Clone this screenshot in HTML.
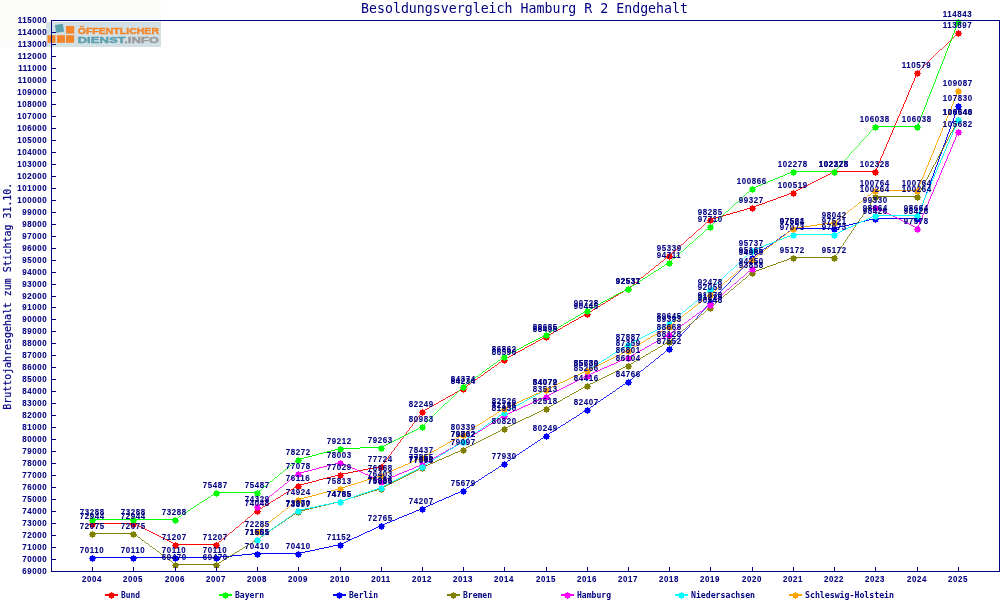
<!DOCTYPE html>
<html lang="de"><head><meta charset="utf-8"><title>Besoldungsvergleich Hamburg R 2 Endgehalt</title>
<style>html,body{margin:0;padding:0;background:#fff}svg{display:block}.t{font-family:'DejaVu Sans Mono','Liberation Mono',monospace;font-size:8.2px;font-weight:bold;fill:#000080}.d{font-family:'Liberation Sans',sans-serif;font-size:9px;font-weight:bold;fill:#000080;letter-spacing:0.68px;stroke:#000080;stroke-width:0.1px}.ln{fill:none}</style></head><body>
<svg width="1000" height="600" viewBox="0 0 1000 600">
<rect width="1000" height="600" fill="#ffffff"/>
<rect x="0" y="0" width="161" height="47" fill="#fcfdfa"/>
<g id="logo">
<rect x="46" y="22" width="115" height="25" fill="#d2dfe5"/>
<rect x="47.5" y="35.2" width="8" height="7.6" fill="#f7862a"/>
<rect x="57" y="35.2" width="8" height="7.6" fill="#f7862a"/>
<rect x="66" y="35.2" width="8.2" height="7.6" fill="#f7862a"/>
<rect x="66" y="26" width="8.2" height="7.6" fill="#f7862a"/>
<rect x="55.5" y="24.3" width="8" height="8" fill="#5aa0ad" transform="rotate(-8 59.5 28.3)"/>
<text x="77.7" y="33.6" style="font-family:'Liberation Sans',sans-serif;font-weight:bold;font-size:9.5px" fill="#f58426" stroke="#f58426" stroke-width="0.4" textLength="81.3" lengthAdjust="spacingAndGlyphs">ÖFFENTLICHER</text>
<text x="77.7" y="43.3" style="font-family:'Liberation Sans',sans-serif;font-weight:bold;font-size:9.5px" stroke-width="0.4" textLength="81.3" lengthAdjust="spacingAndGlyphs"><tspan fill="#5b9fac" stroke="#5b9fac">DIENST</tspan><tspan fill="#9a9a9a" stroke="#9a9a9a">.INFO</tspan></text>
</g>
<text x="524.5" y="13" text-anchor="middle" textLength="327" lengthAdjust="spacingAndGlyphs" style="font-family:'DejaVu Sans Mono','Liberation Mono',monospace;font-size:13.3px" fill="#000080">Besoldungsvergleich Hamburg R 2 Endgehalt</text>
<text transform="translate(10.5,296.2) rotate(-90)" text-anchor="middle" textLength="227" lengthAdjust="spacingAndGlyphs" style="font-family:'DejaVu Sans Mono','Liberation Mono',monospace;font-size:10.8px" stroke="#000080" stroke-width="0.2" fill="#000080">Bruttojahresgehalt zum Stichtag 31.10.</text>
<g class="d">
<text transform="translate(47.3,574.0) scale(0.88,1)" text-anchor="end">69000</text>
<text transform="translate(47.3,562.0) scale(0.88,1)" text-anchor="end">70000</text>
<text transform="translate(47.3,550.0) scale(0.88,1)" text-anchor="end">71000</text>
<text transform="translate(47.3,538.0) scale(0.88,1)" text-anchor="end">72000</text>
<text transform="translate(47.3,526.0) scale(0.88,1)" text-anchor="end">73000</text>
<text transform="translate(47.3,514.0) scale(0.88,1)" text-anchor="end">74000</text>
<text transform="translate(47.3,502.0) scale(0.88,1)" text-anchor="end">75000</text>
<text transform="translate(47.3,490.0) scale(0.88,1)" text-anchor="end">76000</text>
<text transform="translate(47.3,478.0) scale(0.88,1)" text-anchor="end">77000</text>
<text transform="translate(47.3,466.0) scale(0.88,1)" text-anchor="end">78000</text>
<text transform="translate(47.3,454.0) scale(0.88,1)" text-anchor="end">79000</text>
<text transform="translate(47.3,442.0) scale(0.88,1)" text-anchor="end">80000</text>
<text transform="translate(47.3,430.0) scale(0.88,1)" text-anchor="end">81000</text>
<text transform="translate(47.3,418.0) scale(0.88,1)" text-anchor="end">82000</text>
<text transform="translate(47.3,406.0) scale(0.88,1)" text-anchor="end">83000</text>
<text transform="translate(47.3,394.0) scale(0.88,1)" text-anchor="end">84000</text>
<text transform="translate(47.3,382.0) scale(0.88,1)" text-anchor="end">85000</text>
<text transform="translate(47.3,370.0) scale(0.88,1)" text-anchor="end">86000</text>
<text transform="translate(47.3,358.0) scale(0.88,1)" text-anchor="end">87000</text>
<text transform="translate(47.3,346.0) scale(0.88,1)" text-anchor="end">88000</text>
<text transform="translate(47.3,334.0) scale(0.88,1)" text-anchor="end">89000</text>
<text transform="translate(47.3,322.0) scale(0.88,1)" text-anchor="end">90000</text>
<text transform="translate(47.3,310.0) scale(0.88,1)" text-anchor="end">91000</text>
<text transform="translate(47.3,299.0) scale(0.88,1)" text-anchor="end">92000</text>
<text transform="translate(47.3,287.0) scale(0.88,1)" text-anchor="end">93000</text>
<text transform="translate(47.3,275.0) scale(0.88,1)" text-anchor="end">94000</text>
<text transform="translate(47.3,263.0) scale(0.88,1)" text-anchor="end">95000</text>
<text transform="translate(47.3,251.0) scale(0.88,1)" text-anchor="end">96000</text>
<text transform="translate(47.3,239.0) scale(0.88,1)" text-anchor="end">97000</text>
<text transform="translate(47.3,227.0) scale(0.88,1)" text-anchor="end">98000</text>
<text transform="translate(47.3,215.0) scale(0.88,1)" text-anchor="end">99000</text>
<text transform="translate(47.3,203.0) scale(0.88,1)" text-anchor="end">100000</text>
<text transform="translate(47.3,191.0) scale(0.88,1)" text-anchor="end">101000</text>
<text transform="translate(47.3,179.0) scale(0.88,1)" text-anchor="end">102000</text>
<text transform="translate(47.3,167.0) scale(0.88,1)" text-anchor="end">103000</text>
<text transform="translate(47.3,155.0) scale(0.88,1)" text-anchor="end">104000</text>
<text transform="translate(47.3,143.0) scale(0.88,1)" text-anchor="end">105000</text>
<text transform="translate(47.3,131.0) scale(0.88,1)" text-anchor="end">106000</text>
<text transform="translate(47.3,119.0) scale(0.88,1)" text-anchor="end">107000</text>
<text transform="translate(47.3,107.0) scale(0.88,1)" text-anchor="end">108000</text>
<text transform="translate(47.3,95.0) scale(0.88,1)" text-anchor="end">109000</text>
<text transform="translate(47.3,83.0) scale(0.88,1)" text-anchor="end">110000</text>
<text transform="translate(47.3,71.0) scale(0.88,1)" text-anchor="end">111000</text>
<text transform="translate(47.3,59.0) scale(0.88,1)" text-anchor="end">112000</text>
<text transform="translate(47.3,47.0) scale(0.88,1)" text-anchor="end">113000</text>
<text transform="translate(47.3,35.0) scale(0.88,1)" text-anchor="end">114000</text>
<text transform="translate(47.3,23.0) scale(0.88,1)" text-anchor="end">115000</text>
<text transform="translate(92.0,582.4) scale(0.88,1)" text-anchor="middle">2004</text>
<text transform="translate(133.0,582.4) scale(0.88,1)" text-anchor="middle">2005</text>
<text transform="translate(175.0,582.4) scale(0.88,1)" text-anchor="middle">2006</text>
<text transform="translate(216.0,582.4) scale(0.88,1)" text-anchor="middle">2007</text>
<text transform="translate(257.0,582.4) scale(0.88,1)" text-anchor="middle">2008</text>
<text transform="translate(298.0,582.4) scale(0.88,1)" text-anchor="middle">2009</text>
<text transform="translate(340.0,582.4) scale(0.88,1)" text-anchor="middle">2010</text>
<text transform="translate(381.0,582.4) scale(0.88,1)" text-anchor="middle">2011</text>
<text transform="translate(422.0,582.4) scale(0.88,1)" text-anchor="middle">2012</text>
<text transform="translate(463.0,582.4) scale(0.88,1)" text-anchor="middle">2013</text>
<text transform="translate(504.0,582.4) scale(0.88,1)" text-anchor="middle">2014</text>
<text transform="translate(546.0,582.4) scale(0.88,1)" text-anchor="middle">2015</text>
<text transform="translate(587.0,582.4) scale(0.88,1)" text-anchor="middle">2016</text>
<text transform="translate(628.0,582.4) scale(0.88,1)" text-anchor="middle">2017</text>
<text transform="translate(669.0,582.4) scale(0.88,1)" text-anchor="middle">2018</text>
<text transform="translate(710.0,582.4) scale(0.88,1)" text-anchor="middle">2019</text>
<text transform="translate(752.0,582.4) scale(0.88,1)" text-anchor="middle">2020</text>
<text transform="translate(793.0,582.4) scale(0.88,1)" text-anchor="middle">2021</text>
<text transform="translate(834.0,582.4) scale(0.88,1)" text-anchor="middle">2022</text>
<text transform="translate(875.0,582.4) scale(0.88,1)" text-anchor="middle">2023</text>
<text transform="translate(917.0,582.4) scale(0.88,1)" text-anchor="middle">2024</text>
<text transform="translate(958.0,582.4) scale(0.88,1)" text-anchor="middle">2025</text>
</g>
<g id="s-Bund">
<g stroke="#ff0000" shape-rendering="crispEdges" fill="none">
<line x1="92.47" y1="523.47" x2="133.47" y2="523.47" stroke-width="1.000"/>
<line x1="133.47" y1="523.47" x2="175.47" y2="544.47" stroke-width="0.894"/>
<line x1="175.47" y1="544.47" x2="216.47" y2="544.47" stroke-width="1.000"/>
<line x1="216.47" y1="544.47" x2="257.47" y2="510.47" stroke-width="0.770"/>
<line x1="257.47" y1="510.47" x2="298.47" y2="485.47" stroke-width="0.854"/>
<line x1="298.47" y1="485.47" x2="340.47" y2="474.47" stroke-width="0.967"/>
<line x1="340.47" y1="474.47" x2="381.47" y2="466.47" stroke-width="0.981"/>
<line x1="381.47" y1="466.47" x2="422.47" y2="411.47" stroke-width="0.802"/>
<line x1="422.47" y1="411.47" x2="463.47" y2="388.47" stroke-width="0.872"/>
<line x1="463.47" y1="388.47" x2="504.47" y2="359.47" stroke-width="0.816"/>
<line x1="504.47" y1="359.47" x2="546.47" y2="336.47" stroke-width="0.877"/>
<line x1="546.47" y1="336.47" x2="587.47" y2="313.47" stroke-width="0.872"/>
<line x1="587.47" y1="313.47" x2="628.47" y2="288.47" stroke-width="0.854"/>
<line x1="628.47" y1="288.47" x2="669.47" y2="255.47" stroke-width="0.779"/>
<line x1="669.47" y1="255.47" x2="710.47" y2="219.47" stroke-width="0.751"/>
<line x1="710.47" y1="219.47" x2="752.47" y2="207.47" stroke-width="0.962"/>
<line x1="752.47" y1="207.47" x2="793.47" y2="192.47" stroke-width="0.939"/>
<line x1="793.47" y1="192.47" x2="834.47" y2="171.47" stroke-width="0.890"/>
<line x1="834.47" y1="171.47" x2="875.47" y2="171.47" stroke-width="1.000"/>
<line x1="875.47" y1="171.47" x2="917.47" y2="72.47" stroke-width="0.921"/>
<line x1="917.47" y1="72.47" x2="958.47" y2="32.47" stroke-width="0.716"/>
</g>
<g fill="#ff0000">
<polygon points="92.50,520.80 93.53,522.01 95.12,521.88 94.99,523.47 96.20,524.50 94.99,525.53 95.12,527.12 93.53,526.99 92.50,528.20 91.47,526.99 89.88,527.12 90.01,525.53 88.80,524.50 90.01,523.47 89.88,521.88 91.47,522.01"/>
<polygon points="133.50,520.80 134.53,522.01 136.12,521.88 135.99,523.47 137.20,524.50 135.99,525.53 136.12,527.12 134.53,526.99 133.50,528.20 132.47,526.99 130.88,527.12 131.01,525.53 129.80,524.50 131.01,523.47 130.88,521.88 132.47,522.01"/>
<polygon points="175.50,541.80 176.53,543.01 178.12,542.88 177.99,544.47 179.20,545.50 177.99,546.53 178.12,548.12 176.53,547.99 175.50,549.20 174.47,547.99 172.88,548.12 173.01,546.53 171.80,545.50 173.01,544.47 172.88,542.88 174.47,543.01"/>
<polygon points="216.50,541.80 217.53,543.01 219.12,542.88 218.99,544.47 220.20,545.50 218.99,546.53 219.12,548.12 217.53,547.99 216.50,549.20 215.47,547.99 213.88,548.12 214.01,546.53 212.80,545.50 214.01,544.47 213.88,542.88 215.47,543.01"/>
<polygon points="257.50,507.80 258.53,509.01 260.12,508.88 259.99,510.47 261.20,511.50 259.99,512.53 260.12,514.12 258.53,513.99 257.50,515.20 256.47,513.99 254.88,514.12 255.01,512.53 253.80,511.50 255.01,510.47 254.88,508.88 256.47,509.01"/>
<polygon points="298.50,482.80 299.53,484.01 301.12,483.88 300.99,485.47 302.20,486.50 300.99,487.53 301.12,489.12 299.53,488.99 298.50,490.20 297.47,488.99 295.88,489.12 296.01,487.53 294.80,486.50 296.01,485.47 295.88,483.88 297.47,484.01"/>
<polygon points="340.50,471.80 341.53,473.01 343.12,472.88 342.99,474.47 344.20,475.50 342.99,476.53 343.12,478.12 341.53,477.99 340.50,479.20 339.47,477.99 337.88,478.12 338.01,476.53 336.80,475.50 338.01,474.47 337.88,472.88 339.47,473.01"/>
<polygon points="381.50,463.80 382.53,465.01 384.12,464.88 383.99,466.47 385.20,467.50 383.99,468.53 384.12,470.12 382.53,469.99 381.50,471.20 380.47,469.99 378.88,470.12 379.01,468.53 377.80,467.50 379.01,466.47 378.88,464.88 380.47,465.01"/>
<polygon points="422.50,408.80 423.53,410.01 425.12,409.88 424.99,411.47 426.20,412.50 424.99,413.53 425.12,415.12 423.53,414.99 422.50,416.20 421.47,414.99 419.88,415.12 420.01,413.53 418.80,412.50 420.01,411.47 419.88,409.88 421.47,410.01"/>
<polygon points="463.50,385.80 464.53,387.01 466.12,386.88 465.99,388.47 467.20,389.50 465.99,390.53 466.12,392.12 464.53,391.99 463.50,393.20 462.47,391.99 460.88,392.12 461.01,390.53 459.80,389.50 461.01,388.47 460.88,386.88 462.47,387.01"/>
<polygon points="504.50,356.80 505.53,358.01 507.12,357.88 506.99,359.47 508.20,360.50 506.99,361.53 507.12,363.12 505.53,362.99 504.50,364.20 503.47,362.99 501.88,363.12 502.01,361.53 500.80,360.50 502.01,359.47 501.88,357.88 503.47,358.01"/>
<polygon points="546.50,333.80 547.53,335.01 549.12,334.88 548.99,336.47 550.20,337.50 548.99,338.53 549.12,340.12 547.53,339.99 546.50,341.20 545.47,339.99 543.88,340.12 544.01,338.53 542.80,337.50 544.01,336.47 543.88,334.88 545.47,335.01"/>
<polygon points="587.50,310.80 588.53,312.01 590.12,311.88 589.99,313.47 591.20,314.50 589.99,315.53 590.12,317.12 588.53,316.99 587.50,318.20 586.47,316.99 584.88,317.12 585.01,315.53 583.80,314.50 585.01,313.47 584.88,311.88 586.47,312.01"/>
<polygon points="628.50,285.80 629.53,287.01 631.12,286.88 630.99,288.47 632.20,289.50 630.99,290.53 631.12,292.12 629.53,291.99 628.50,293.20 627.47,291.99 625.88,292.12 626.01,290.53 624.80,289.50 626.01,288.47 625.88,286.88 627.47,287.01"/>
<polygon points="669.50,252.80 670.53,254.01 672.12,253.88 671.99,255.47 673.20,256.50 671.99,257.53 672.12,259.12 670.53,258.99 669.50,260.20 668.47,258.99 666.88,259.12 667.01,257.53 665.80,256.50 667.01,255.47 666.88,253.88 668.47,254.01"/>
<polygon points="710.50,216.80 711.53,218.01 713.12,217.88 712.99,219.47 714.20,220.50 712.99,221.53 713.12,223.12 711.53,222.99 710.50,224.20 709.47,222.99 707.88,223.12 708.01,221.53 706.80,220.50 708.01,219.47 707.88,217.88 709.47,218.01"/>
<polygon points="752.50,204.80 753.53,206.01 755.12,205.88 754.99,207.47 756.20,208.50 754.99,209.53 755.12,211.12 753.53,210.99 752.50,212.20 751.47,210.99 749.88,211.12 750.01,209.53 748.80,208.50 750.01,207.47 749.88,205.88 751.47,206.01"/>
<polygon points="793.50,189.80 794.53,191.01 796.12,190.88 795.99,192.47 797.20,193.50 795.99,194.53 796.12,196.12 794.53,195.99 793.50,197.20 792.47,195.99 790.88,196.12 791.01,194.53 789.80,193.50 791.01,192.47 790.88,190.88 792.47,191.01"/>
<polygon points="834.50,168.80 835.53,170.01 837.12,169.88 836.99,171.47 838.20,172.50 836.99,173.53 837.12,175.12 835.53,174.99 834.50,176.20 833.47,174.99 831.88,175.12 832.01,173.53 830.80,172.50 832.01,171.47 831.88,169.88 833.47,170.01"/>
<polygon points="875.50,168.80 876.53,170.01 878.12,169.88 877.99,171.47 879.20,172.50 877.99,173.53 878.12,175.12 876.53,174.99 875.50,176.20 874.47,174.99 872.88,175.12 873.01,173.53 871.80,172.50 873.01,171.47 872.88,169.88 874.47,170.01"/>
<polygon points="917.50,69.80 918.53,71.01 920.12,70.88 919.99,72.47 921.20,73.50 919.99,74.53 920.12,76.12 918.53,75.99 917.50,77.20 916.47,75.99 914.88,76.12 915.01,74.53 913.80,73.50 915.01,72.47 914.88,70.88 916.47,71.01"/>
<polygon points="958.50,29.80 959.53,31.01 961.12,30.88 960.99,32.47 962.20,33.50 960.99,34.53 961.12,36.12 959.53,35.99 958.50,37.20 957.47,35.99 955.88,36.12 956.01,34.53 954.80,33.50 956.01,32.47 955.88,30.88 957.47,31.01"/>
</g></g>
<g id="s-Bayern">
<g stroke="#00ff00" shape-rendering="crispEdges" fill="none">
<line x1="92.47" y1="519.47" x2="133.47" y2="519.47" stroke-width="1.000"/>
<line x1="133.47" y1="519.47" x2="175.47" y2="519.47" stroke-width="1.000"/>
<line x1="175.47" y1="519.47" x2="216.47" y2="492.47" stroke-width="0.835"/>
<line x1="216.47" y1="492.47" x2="257.47" y2="492.47" stroke-width="1.000"/>
<line x1="257.47" y1="492.47" x2="298.47" y2="459.47" stroke-width="0.779"/>
<line x1="298.47" y1="459.47" x2="340.47" y2="448.47" stroke-width="0.967"/>
<line x1="340.47" y1="448.47" x2="381.47" y2="447.47" stroke-width="1.000"/>
<line x1="381.47" y1="447.47" x2="422.47" y2="426.47" stroke-width="0.890"/>
<line x1="422.47" y1="426.47" x2="463.47" y2="386.47" stroke-width="0.716"/>
<line x1="463.47" y1="386.47" x2="504.47" y2="356.47" stroke-width="0.807"/>
<line x1="504.47" y1="356.47" x2="546.47" y2="334.47" stroke-width="0.886"/>
<line x1="546.47" y1="334.47" x2="587.47" y2="310.47" stroke-width="0.863"/>
<line x1="587.47" y1="310.47" x2="628.47" y2="288.47" stroke-width="0.881"/>
<line x1="628.47" y1="288.47" x2="669.47" y2="262.47" stroke-width="0.845"/>
<line x1="669.47" y1="262.47" x2="710.47" y2="226.47" stroke-width="0.751"/>
<line x1="710.47" y1="226.47" x2="752.47" y2="188.47" stroke-width="0.742"/>
<line x1="752.47" y1="188.47" x2="793.47" y2="171.47" stroke-width="0.924"/>
<line x1="793.47" y1="171.47" x2="834.47" y2="171.47" stroke-width="1.000"/>
<line x1="834.47" y1="171.47" x2="875.47" y2="126.47" stroke-width="0.739"/>
<line x1="875.47" y1="126.47" x2="917.47" y2="126.47" stroke-width="1.000"/>
<line x1="917.47" y1="126.47" x2="958.47" y2="21.47" stroke-width="0.932"/>
</g>
<g fill="#00ff00">
<polygon points="92.50,516.80 93.53,518.01 95.12,517.88 94.99,519.47 96.20,520.50 94.99,521.53 95.12,523.12 93.53,522.99 92.50,524.20 91.47,522.99 89.88,523.12 90.01,521.53 88.80,520.50 90.01,519.47 89.88,517.88 91.47,518.01"/>
<polygon points="133.50,516.80 134.53,518.01 136.12,517.88 135.99,519.47 137.20,520.50 135.99,521.53 136.12,523.12 134.53,522.99 133.50,524.20 132.47,522.99 130.88,523.12 131.01,521.53 129.80,520.50 131.01,519.47 130.88,517.88 132.47,518.01"/>
<polygon points="175.50,516.80 176.53,518.01 178.12,517.88 177.99,519.47 179.20,520.50 177.99,521.53 178.12,523.12 176.53,522.99 175.50,524.20 174.47,522.99 172.88,523.12 173.01,521.53 171.80,520.50 173.01,519.47 172.88,517.88 174.47,518.01"/>
<polygon points="216.50,489.80 217.53,491.01 219.12,490.88 218.99,492.47 220.20,493.50 218.99,494.53 219.12,496.12 217.53,495.99 216.50,497.20 215.47,495.99 213.88,496.12 214.01,494.53 212.80,493.50 214.01,492.47 213.88,490.88 215.47,491.01"/>
<polygon points="257.50,489.80 258.53,491.01 260.12,490.88 259.99,492.47 261.20,493.50 259.99,494.53 260.12,496.12 258.53,495.99 257.50,497.20 256.47,495.99 254.88,496.12 255.01,494.53 253.80,493.50 255.01,492.47 254.88,490.88 256.47,491.01"/>
<polygon points="298.50,456.80 299.53,458.01 301.12,457.88 300.99,459.47 302.20,460.50 300.99,461.53 301.12,463.12 299.53,462.99 298.50,464.20 297.47,462.99 295.88,463.12 296.01,461.53 294.80,460.50 296.01,459.47 295.88,457.88 297.47,458.01"/>
<polygon points="340.50,445.80 341.53,447.01 343.12,446.88 342.99,448.47 344.20,449.50 342.99,450.53 343.12,452.12 341.53,451.99 340.50,453.20 339.47,451.99 337.88,452.12 338.01,450.53 336.80,449.50 338.01,448.47 337.88,446.88 339.47,447.01"/>
<polygon points="381.50,444.80 382.53,446.01 384.12,445.88 383.99,447.47 385.20,448.50 383.99,449.53 384.12,451.12 382.53,450.99 381.50,452.20 380.47,450.99 378.88,451.12 379.01,449.53 377.80,448.50 379.01,447.47 378.88,445.88 380.47,446.01"/>
<polygon points="422.50,423.80 423.53,425.01 425.12,424.88 424.99,426.47 426.20,427.50 424.99,428.53 425.12,430.12 423.53,429.99 422.50,431.20 421.47,429.99 419.88,430.12 420.01,428.53 418.80,427.50 420.01,426.47 419.88,424.88 421.47,425.01"/>
<polygon points="463.50,383.80 464.53,385.01 466.12,384.88 465.99,386.47 467.20,387.50 465.99,388.53 466.12,390.12 464.53,389.99 463.50,391.20 462.47,389.99 460.88,390.12 461.01,388.53 459.80,387.50 461.01,386.47 460.88,384.88 462.47,385.01"/>
<polygon points="504.50,353.80 505.53,355.01 507.12,354.88 506.99,356.47 508.20,357.50 506.99,358.53 507.12,360.12 505.53,359.99 504.50,361.20 503.47,359.99 501.88,360.12 502.01,358.53 500.80,357.50 502.01,356.47 501.88,354.88 503.47,355.01"/>
<polygon points="546.50,331.80 547.53,333.01 549.12,332.88 548.99,334.47 550.20,335.50 548.99,336.53 549.12,338.12 547.53,337.99 546.50,339.20 545.47,337.99 543.88,338.12 544.01,336.53 542.80,335.50 544.01,334.47 543.88,332.88 545.47,333.01"/>
<polygon points="587.50,307.80 588.53,309.01 590.12,308.88 589.99,310.47 591.20,311.50 589.99,312.53 590.12,314.12 588.53,313.99 587.50,315.20 586.47,313.99 584.88,314.12 585.01,312.53 583.80,311.50 585.01,310.47 584.88,308.88 586.47,309.01"/>
<polygon points="628.50,285.80 629.53,287.01 631.12,286.88 630.99,288.47 632.20,289.50 630.99,290.53 631.12,292.12 629.53,291.99 628.50,293.20 627.47,291.99 625.88,292.12 626.01,290.53 624.80,289.50 626.01,288.47 625.88,286.88 627.47,287.01"/>
<polygon points="669.50,259.80 670.53,261.01 672.12,260.88 671.99,262.47 673.20,263.50 671.99,264.53 672.12,266.12 670.53,265.99 669.50,267.20 668.47,265.99 666.88,266.12 667.01,264.53 665.80,263.50 667.01,262.47 666.88,260.88 668.47,261.01"/>
<polygon points="710.50,223.80 711.53,225.01 713.12,224.88 712.99,226.47 714.20,227.50 712.99,228.53 713.12,230.12 711.53,229.99 710.50,231.20 709.47,229.99 707.88,230.12 708.01,228.53 706.80,227.50 708.01,226.47 707.88,224.88 709.47,225.01"/>
<polygon points="752.50,185.80 753.53,187.01 755.12,186.88 754.99,188.47 756.20,189.50 754.99,190.53 755.12,192.12 753.53,191.99 752.50,193.20 751.47,191.99 749.88,192.12 750.01,190.53 748.80,189.50 750.01,188.47 749.88,186.88 751.47,187.01"/>
<polygon points="793.50,168.80 794.53,170.01 796.12,169.88 795.99,171.47 797.20,172.50 795.99,173.53 796.12,175.12 794.53,174.99 793.50,176.20 792.47,174.99 790.88,175.12 791.01,173.53 789.80,172.50 791.01,171.47 790.88,169.88 792.47,170.01"/>
<polygon points="834.50,168.80 835.53,170.01 837.12,169.88 836.99,171.47 838.20,172.50 836.99,173.53 837.12,175.12 835.53,174.99 834.50,176.20 833.47,174.99 831.88,175.12 832.01,173.53 830.80,172.50 832.01,171.47 831.88,169.88 833.47,170.01"/>
<polygon points="875.50,123.80 876.53,125.01 878.12,124.88 877.99,126.47 879.20,127.50 877.99,128.53 878.12,130.12 876.53,129.99 875.50,131.20 874.47,129.99 872.88,130.12 873.01,128.53 871.80,127.50 873.01,126.47 872.88,124.88 874.47,125.01"/>
<polygon points="917.50,123.80 918.53,125.01 920.12,124.88 919.99,126.47 921.20,127.50 919.99,128.53 920.12,130.12 918.53,129.99 917.50,131.20 916.47,129.99 914.88,130.12 915.01,128.53 913.80,127.50 915.01,126.47 914.88,124.88 916.47,125.01"/>
<polygon points="958.50,18.80 959.53,20.01 961.12,19.88 960.99,21.47 962.20,22.50 960.99,23.53 961.12,25.12 959.53,24.99 958.50,26.20 957.47,24.99 955.88,25.12 956.01,23.53 954.80,22.50 956.01,21.47 955.88,19.88 957.47,20.01"/>
</g></g>
<g id="s-Berlin">
<g stroke="#0000ff" shape-rendering="crispEdges" fill="none">
<line x1="92.47" y1="557.47" x2="133.47" y2="557.47" stroke-width="1.000"/>
<line x1="133.47" y1="557.47" x2="175.47" y2="557.47" stroke-width="1.000"/>
<line x1="175.47" y1="557.47" x2="216.47" y2="557.47" stroke-width="1.000"/>
<line x1="216.47" y1="557.47" x2="257.47" y2="553.47" stroke-width="0.995"/>
<line x1="257.47" y1="553.47" x2="298.47" y2="553.47" stroke-width="1.000"/>
<line x1="298.47" y1="553.47" x2="340.47" y2="544.47" stroke-width="0.978"/>
<line x1="340.47" y1="544.47" x2="381.47" y2="525.47" stroke-width="0.907"/>
<line x1="381.47" y1="525.47" x2="422.47" y2="508.47" stroke-width="0.924"/>
<line x1="422.47" y1="508.47" x2="463.47" y2="490.47" stroke-width="0.916"/>
<line x1="463.47" y1="490.47" x2="504.47" y2="463.47" stroke-width="0.835"/>
<line x1="504.47" y1="463.47" x2="546.47" y2="435.47" stroke-width="0.832"/>
<line x1="546.47" y1="435.47" x2="587.47" y2="409.47" stroke-width="0.845"/>
<line x1="587.47" y1="409.47" x2="628.47" y2="381.47" stroke-width="0.826"/>
<line x1="628.47" y1="381.47" x2="669.47" y2="348.47" stroke-width="0.779"/>
<line x1="669.47" y1="348.47" x2="710.47" y2="302.47" stroke-width="0.747"/>
<line x1="710.47" y1="302.47" x2="752.47" y2="257.47" stroke-width="0.731"/>
<line x1="752.47" y1="257.47" x2="793.47" y2="228.47" stroke-width="0.816"/>
<line x1="793.47" y1="228.47" x2="834.47" y2="228.47" stroke-width="1.000"/>
<line x1="834.47" y1="228.47" x2="875.47" y2="218.47" stroke-width="0.972"/>
<line x1="875.47" y1="218.47" x2="917.47" y2="218.47" stroke-width="1.000"/>
<line x1="917.47" y1="218.47" x2="958.47" y2="105.47" stroke-width="0.940"/>
</g>
<g fill="#0000ff">
<polygon points="92.50,554.80 93.53,556.01 95.12,555.88 94.99,557.47 96.20,558.50 94.99,559.53 95.12,561.12 93.53,560.99 92.50,562.20 91.47,560.99 89.88,561.12 90.01,559.53 88.80,558.50 90.01,557.47 89.88,555.88 91.47,556.01"/>
<polygon points="133.50,554.80 134.53,556.01 136.12,555.88 135.99,557.47 137.20,558.50 135.99,559.53 136.12,561.12 134.53,560.99 133.50,562.20 132.47,560.99 130.88,561.12 131.01,559.53 129.80,558.50 131.01,557.47 130.88,555.88 132.47,556.01"/>
<polygon points="175.50,554.80 176.53,556.01 178.12,555.88 177.99,557.47 179.20,558.50 177.99,559.53 178.12,561.12 176.53,560.99 175.50,562.20 174.47,560.99 172.88,561.12 173.01,559.53 171.80,558.50 173.01,557.47 172.88,555.88 174.47,556.01"/>
<polygon points="216.50,554.80 217.53,556.01 219.12,555.88 218.99,557.47 220.20,558.50 218.99,559.53 219.12,561.12 217.53,560.99 216.50,562.20 215.47,560.99 213.88,561.12 214.01,559.53 212.80,558.50 214.01,557.47 213.88,555.88 215.47,556.01"/>
<polygon points="257.50,550.80 258.53,552.01 260.12,551.88 259.99,553.47 261.20,554.50 259.99,555.53 260.12,557.12 258.53,556.99 257.50,558.20 256.47,556.99 254.88,557.12 255.01,555.53 253.80,554.50 255.01,553.47 254.88,551.88 256.47,552.01"/>
<polygon points="298.50,550.80 299.53,552.01 301.12,551.88 300.99,553.47 302.20,554.50 300.99,555.53 301.12,557.12 299.53,556.99 298.50,558.20 297.47,556.99 295.88,557.12 296.01,555.53 294.80,554.50 296.01,553.47 295.88,551.88 297.47,552.01"/>
<polygon points="340.50,541.80 341.53,543.01 343.12,542.88 342.99,544.47 344.20,545.50 342.99,546.53 343.12,548.12 341.53,547.99 340.50,549.20 339.47,547.99 337.88,548.12 338.01,546.53 336.80,545.50 338.01,544.47 337.88,542.88 339.47,543.01"/>
<polygon points="381.50,522.80 382.53,524.01 384.12,523.88 383.99,525.47 385.20,526.50 383.99,527.53 384.12,529.12 382.53,528.99 381.50,530.20 380.47,528.99 378.88,529.12 379.01,527.53 377.80,526.50 379.01,525.47 378.88,523.88 380.47,524.01"/>
<polygon points="422.50,505.80 423.53,507.01 425.12,506.88 424.99,508.47 426.20,509.50 424.99,510.53 425.12,512.12 423.53,511.99 422.50,513.20 421.47,511.99 419.88,512.12 420.01,510.53 418.80,509.50 420.01,508.47 419.88,506.88 421.47,507.01"/>
<polygon points="463.50,487.80 464.53,489.01 466.12,488.88 465.99,490.47 467.20,491.50 465.99,492.53 466.12,494.12 464.53,493.99 463.50,495.20 462.47,493.99 460.88,494.12 461.01,492.53 459.80,491.50 461.01,490.47 460.88,488.88 462.47,489.01"/>
<polygon points="504.50,460.80 505.53,462.01 507.12,461.88 506.99,463.47 508.20,464.50 506.99,465.53 507.12,467.12 505.53,466.99 504.50,468.20 503.47,466.99 501.88,467.12 502.01,465.53 500.80,464.50 502.01,463.47 501.88,461.88 503.47,462.01"/>
<polygon points="546.50,432.80 547.53,434.01 549.12,433.88 548.99,435.47 550.20,436.50 548.99,437.53 549.12,439.12 547.53,438.99 546.50,440.20 545.47,438.99 543.88,439.12 544.01,437.53 542.80,436.50 544.01,435.47 543.88,433.88 545.47,434.01"/>
<polygon points="587.50,406.80 588.53,408.01 590.12,407.88 589.99,409.47 591.20,410.50 589.99,411.53 590.12,413.12 588.53,412.99 587.50,414.20 586.47,412.99 584.88,413.12 585.01,411.53 583.80,410.50 585.01,409.47 584.88,407.88 586.47,408.01"/>
<polygon points="628.50,378.80 629.53,380.01 631.12,379.88 630.99,381.47 632.20,382.50 630.99,383.53 631.12,385.12 629.53,384.99 628.50,386.20 627.47,384.99 625.88,385.12 626.01,383.53 624.80,382.50 626.01,381.47 625.88,379.88 627.47,380.01"/>
<polygon points="669.50,345.80 670.53,347.01 672.12,346.88 671.99,348.47 673.20,349.50 671.99,350.53 672.12,352.12 670.53,351.99 669.50,353.20 668.47,351.99 666.88,352.12 667.01,350.53 665.80,349.50 667.01,348.47 666.88,346.88 668.47,347.01"/>
<polygon points="710.50,299.80 711.53,301.01 713.12,300.88 712.99,302.47 714.20,303.50 712.99,304.53 713.12,306.12 711.53,305.99 710.50,307.20 709.47,305.99 707.88,306.12 708.01,304.53 706.80,303.50 708.01,302.47 707.88,300.88 709.47,301.01"/>
<polygon points="752.50,254.80 753.53,256.01 755.12,255.88 754.99,257.47 756.20,258.50 754.99,259.53 755.12,261.12 753.53,260.99 752.50,262.20 751.47,260.99 749.88,261.12 750.01,259.53 748.80,258.50 750.01,257.47 749.88,255.88 751.47,256.01"/>
<polygon points="793.50,225.80 794.53,227.01 796.12,226.88 795.99,228.47 797.20,229.50 795.99,230.53 796.12,232.12 794.53,231.99 793.50,233.20 792.47,231.99 790.88,232.12 791.01,230.53 789.80,229.50 791.01,228.47 790.88,226.88 792.47,227.01"/>
<polygon points="834.50,225.80 835.53,227.01 837.12,226.88 836.99,228.47 838.20,229.50 836.99,230.53 837.12,232.12 835.53,231.99 834.50,233.20 833.47,231.99 831.88,232.12 832.01,230.53 830.80,229.50 832.01,228.47 831.88,226.88 833.47,227.01"/>
<polygon points="875.50,215.80 876.53,217.01 878.12,216.88 877.99,218.47 879.20,219.50 877.99,220.53 878.12,222.12 876.53,221.99 875.50,223.20 874.47,221.99 872.88,222.12 873.01,220.53 871.80,219.50 873.01,218.47 872.88,216.88 874.47,217.01"/>
<polygon points="917.50,215.80 918.53,217.01 920.12,216.88 919.99,218.47 921.20,219.50 919.99,220.53 920.12,222.12 918.53,221.99 917.50,223.20 916.47,221.99 914.88,222.12 915.01,220.53 913.80,219.50 915.01,218.47 914.88,216.88 916.47,217.01"/>
<polygon points="958.50,102.80 959.53,104.01 961.12,103.88 960.99,105.47 962.20,106.50 960.99,107.53 961.12,109.12 959.53,108.99 958.50,110.20 957.47,108.99 955.88,109.12 956.01,107.53 954.80,106.50 956.01,105.47 955.88,103.88 957.47,104.01"/>
</g></g>
<g id="s-Bremen">
<g stroke="#808000" shape-rendering="crispEdges" fill="none">
<line x1="92.47" y1="533.47" x2="133.47" y2="533.47" stroke-width="1.000"/>
<line x1="133.47" y1="533.47" x2="175.47" y2="564.47" stroke-width="0.805"/>
<line x1="175.47" y1="564.47" x2="216.47" y2="564.47" stroke-width="1.000"/>
<line x1="216.47" y1="564.47" x2="257.47" y2="539.47" stroke-width="0.854"/>
<line x1="257.47" y1="539.47" x2="298.47" y2="511.47" stroke-width="0.826"/>
<line x1="298.47" y1="511.47" x2="340.47" y2="501.47" stroke-width="0.973"/>
<line x1="340.47" y1="501.47" x2="381.47" y2="488.47" stroke-width="0.953"/>
<line x1="381.47" y1="488.47" x2="422.47" y2="467.47" stroke-width="0.890"/>
<line x1="422.47" y1="467.47" x2="463.47" y2="449.47" stroke-width="0.916"/>
<line x1="463.47" y1="449.47" x2="504.47" y2="428.47" stroke-width="0.890"/>
<line x1="504.47" y1="428.47" x2="546.47" y2="408.47" stroke-width="0.903"/>
<line x1="546.47" y1="408.47" x2="587.47" y2="385.47" stroke-width="0.872"/>
<line x1="587.47" y1="385.47" x2="628.47" y2="365.47" stroke-width="0.899"/>
<line x1="628.47" y1="365.47" x2="669.47" y2="341.47" stroke-width="0.863"/>
<line x1="669.47" y1="341.47" x2="710.47" y2="307.47" stroke-width="0.770"/>
<line x1="710.47" y1="307.47" x2="752.47" y2="272.47" stroke-width="0.768"/>
<line x1="752.47" y1="272.47" x2="793.47" y2="257.47" stroke-width="0.939"/>
<line x1="793.47" y1="257.47" x2="834.47" y2="257.47" stroke-width="1.000"/>
<line x1="834.47" y1="257.47" x2="875.47" y2="196.47" stroke-width="0.830"/>
<line x1="875.47" y1="196.47" x2="917.47" y2="196.47" stroke-width="1.000"/>
<line x1="917.47" y1="196.47" x2="958.47" y2="119.47" stroke-width="0.883"/>
</g>
<g fill="#808000">
<polygon points="92.50,530.80 93.53,532.01 95.12,531.88 94.99,533.47 96.20,534.50 94.99,535.53 95.12,537.12 93.53,536.99 92.50,538.20 91.47,536.99 89.88,537.12 90.01,535.53 88.80,534.50 90.01,533.47 89.88,531.88 91.47,532.01"/>
<polygon points="133.50,530.80 134.53,532.01 136.12,531.88 135.99,533.47 137.20,534.50 135.99,535.53 136.12,537.12 134.53,536.99 133.50,538.20 132.47,536.99 130.88,537.12 131.01,535.53 129.80,534.50 131.01,533.47 130.88,531.88 132.47,532.01"/>
<polygon points="175.50,561.80 176.53,563.01 178.12,562.88 177.99,564.47 179.20,565.50 177.99,566.53 178.12,568.12 176.53,567.99 175.50,569.20 174.47,567.99 172.88,568.12 173.01,566.53 171.80,565.50 173.01,564.47 172.88,562.88 174.47,563.01"/>
<polygon points="216.50,561.80 217.53,563.01 219.12,562.88 218.99,564.47 220.20,565.50 218.99,566.53 219.12,568.12 217.53,567.99 216.50,569.20 215.47,567.99 213.88,568.12 214.01,566.53 212.80,565.50 214.01,564.47 213.88,562.88 215.47,563.01"/>
<polygon points="257.50,536.80 258.53,538.01 260.12,537.88 259.99,539.47 261.20,540.50 259.99,541.53 260.12,543.12 258.53,542.99 257.50,544.20 256.47,542.99 254.88,543.12 255.01,541.53 253.80,540.50 255.01,539.47 254.88,537.88 256.47,538.01"/>
<polygon points="298.50,508.80 299.53,510.01 301.12,509.88 300.99,511.47 302.20,512.50 300.99,513.53 301.12,515.12 299.53,514.99 298.50,516.20 297.47,514.99 295.88,515.12 296.01,513.53 294.80,512.50 296.01,511.47 295.88,509.88 297.47,510.01"/>
<polygon points="340.50,498.80 341.53,500.01 343.12,499.88 342.99,501.47 344.20,502.50 342.99,503.53 343.12,505.12 341.53,504.99 340.50,506.20 339.47,504.99 337.88,505.12 338.01,503.53 336.80,502.50 338.01,501.47 337.88,499.88 339.47,500.01"/>
<polygon points="381.50,485.80 382.53,487.01 384.12,486.88 383.99,488.47 385.20,489.50 383.99,490.53 384.12,492.12 382.53,491.99 381.50,493.20 380.47,491.99 378.88,492.12 379.01,490.53 377.80,489.50 379.01,488.47 378.88,486.88 380.47,487.01"/>
<polygon points="422.50,464.80 423.53,466.01 425.12,465.88 424.99,467.47 426.20,468.50 424.99,469.53 425.12,471.12 423.53,470.99 422.50,472.20 421.47,470.99 419.88,471.12 420.01,469.53 418.80,468.50 420.01,467.47 419.88,465.88 421.47,466.01"/>
<polygon points="463.50,446.80 464.53,448.01 466.12,447.88 465.99,449.47 467.20,450.50 465.99,451.53 466.12,453.12 464.53,452.99 463.50,454.20 462.47,452.99 460.88,453.12 461.01,451.53 459.80,450.50 461.01,449.47 460.88,447.88 462.47,448.01"/>
<polygon points="504.50,425.80 505.53,427.01 507.12,426.88 506.99,428.47 508.20,429.50 506.99,430.53 507.12,432.12 505.53,431.99 504.50,433.20 503.47,431.99 501.88,432.12 502.01,430.53 500.80,429.50 502.01,428.47 501.88,426.88 503.47,427.01"/>
<polygon points="546.50,405.80 547.53,407.01 549.12,406.88 548.99,408.47 550.20,409.50 548.99,410.53 549.12,412.12 547.53,411.99 546.50,413.20 545.47,411.99 543.88,412.12 544.01,410.53 542.80,409.50 544.01,408.47 543.88,406.88 545.47,407.01"/>
<polygon points="587.50,382.80 588.53,384.01 590.12,383.88 589.99,385.47 591.20,386.50 589.99,387.53 590.12,389.12 588.53,388.99 587.50,390.20 586.47,388.99 584.88,389.12 585.01,387.53 583.80,386.50 585.01,385.47 584.88,383.88 586.47,384.01"/>
<polygon points="628.50,362.80 629.53,364.01 631.12,363.88 630.99,365.47 632.20,366.50 630.99,367.53 631.12,369.12 629.53,368.99 628.50,370.20 627.47,368.99 625.88,369.12 626.01,367.53 624.80,366.50 626.01,365.47 625.88,363.88 627.47,364.01"/>
<polygon points="669.50,338.80 670.53,340.01 672.12,339.88 671.99,341.47 673.20,342.50 671.99,343.53 672.12,345.12 670.53,344.99 669.50,346.20 668.47,344.99 666.88,345.12 667.01,343.53 665.80,342.50 667.01,341.47 666.88,339.88 668.47,340.01"/>
<polygon points="710.50,304.80 711.53,306.01 713.12,305.88 712.99,307.47 714.20,308.50 712.99,309.53 713.12,311.12 711.53,310.99 710.50,312.20 709.47,310.99 707.88,311.12 708.01,309.53 706.80,308.50 708.01,307.47 707.88,305.88 709.47,306.01"/>
<polygon points="752.50,269.80 753.53,271.01 755.12,270.88 754.99,272.47 756.20,273.50 754.99,274.53 755.12,276.12 753.53,275.99 752.50,277.20 751.47,275.99 749.88,276.12 750.01,274.53 748.80,273.50 750.01,272.47 749.88,270.88 751.47,271.01"/>
<polygon points="793.50,254.80 794.53,256.01 796.12,255.88 795.99,257.47 797.20,258.50 795.99,259.53 796.12,261.12 794.53,260.99 793.50,262.20 792.47,260.99 790.88,261.12 791.01,259.53 789.80,258.50 791.01,257.47 790.88,255.88 792.47,256.01"/>
<polygon points="834.50,254.80 835.53,256.01 837.12,255.88 836.99,257.47 838.20,258.50 836.99,259.53 837.12,261.12 835.53,260.99 834.50,262.20 833.47,260.99 831.88,261.12 832.01,259.53 830.80,258.50 832.01,257.47 831.88,255.88 833.47,256.01"/>
<polygon points="875.50,193.80 876.53,195.01 878.12,194.88 877.99,196.47 879.20,197.50 877.99,198.53 878.12,200.12 876.53,199.99 875.50,201.20 874.47,199.99 872.88,200.12 873.01,198.53 871.80,197.50 873.01,196.47 872.88,194.88 874.47,195.01"/>
<polygon points="917.50,193.80 918.53,195.01 920.12,194.88 919.99,196.47 921.20,197.50 919.99,198.53 920.12,200.12 918.53,199.99 917.50,201.20 916.47,199.99 914.88,200.12 915.01,198.53 913.80,197.50 915.01,196.47 914.88,194.88 916.47,195.01"/>
<polygon points="958.50,116.80 959.53,118.01 961.12,117.88 960.99,119.47 962.20,120.50 960.99,121.53 961.12,123.12 959.53,122.99 958.50,124.20 957.47,122.99 955.88,123.12 956.01,121.53 954.80,120.50 956.01,119.47 955.88,117.88 957.47,118.01"/>
</g></g>
<g id="s-Hamburg">
<g stroke="#ff00ff" shape-rendering="crispEdges" fill="none">
<line x1="257.47" y1="506.47" x2="298.47" y2="473.47" stroke-width="0.779"/>
<line x1="298.47" y1="473.47" x2="340.47" y2="462.47" stroke-width="0.967"/>
<line x1="340.47" y1="462.47" x2="381.47" y2="481.47" stroke-width="0.907"/>
<line x1="381.47" y1="481.47" x2="422.47" y2="464.47" stroke-width="0.924"/>
<line x1="422.47" y1="464.47" x2="463.47" y2="441.47" stroke-width="0.872"/>
<line x1="463.47" y1="441.47" x2="504.47" y2="415.47" stroke-width="0.845"/>
<line x1="504.47" y1="415.47" x2="546.47" y2="396.47" stroke-width="0.911"/>
<line x1="546.47" y1="396.47" x2="587.47" y2="375.47" stroke-width="0.890"/>
<line x1="587.47" y1="375.47" x2="628.47" y2="357.47" stroke-width="0.916"/>
<line x1="628.47" y1="357.47" x2="669.47" y2="334.47" stroke-width="0.872"/>
<line x1="669.47" y1="334.47" x2="710.47" y2="304.47" stroke-width="0.807"/>
<line x1="710.47" y1="304.47" x2="752.47" y2="268.47" stroke-width="0.759"/>
<line x1="875.47" y1="207.47" x2="917.47" y2="228.47" stroke-width="0.894"/>
<line x1="917.47" y1="228.47" x2="958.47" y2="131.47" stroke-width="0.921"/>
</g>
<g fill="#ff00ff">
<polygon points="257.50,503.80 258.53,505.01 260.12,504.88 259.99,506.47 261.20,507.50 259.99,508.53 260.12,510.12 258.53,509.99 257.50,511.20 256.47,509.99 254.88,510.12 255.01,508.53 253.80,507.50 255.01,506.47 254.88,504.88 256.47,505.01"/>
<polygon points="298.50,470.80 299.53,472.01 301.12,471.88 300.99,473.47 302.20,474.50 300.99,475.53 301.12,477.12 299.53,476.99 298.50,478.20 297.47,476.99 295.88,477.12 296.01,475.53 294.80,474.50 296.01,473.47 295.88,471.88 297.47,472.01"/>
<polygon points="340.50,459.80 341.53,461.01 343.12,460.88 342.99,462.47 344.20,463.50 342.99,464.53 343.12,466.12 341.53,465.99 340.50,467.20 339.47,465.99 337.88,466.12 338.01,464.53 336.80,463.50 338.01,462.47 337.88,460.88 339.47,461.01"/>
<polygon points="381.50,478.80 382.53,480.01 384.12,479.88 383.99,481.47 385.20,482.50 383.99,483.53 384.12,485.12 382.53,484.99 381.50,486.20 380.47,484.99 378.88,485.12 379.01,483.53 377.80,482.50 379.01,481.47 378.88,479.88 380.47,480.01"/>
<polygon points="422.50,461.80 423.53,463.01 425.12,462.88 424.99,464.47 426.20,465.50 424.99,466.53 425.12,468.12 423.53,467.99 422.50,469.20 421.47,467.99 419.88,468.12 420.01,466.53 418.80,465.50 420.01,464.47 419.88,462.88 421.47,463.01"/>
<polygon points="463.50,438.80 464.53,440.01 466.12,439.88 465.99,441.47 467.20,442.50 465.99,443.53 466.12,445.12 464.53,444.99 463.50,446.20 462.47,444.99 460.88,445.12 461.01,443.53 459.80,442.50 461.01,441.47 460.88,439.88 462.47,440.01"/>
<polygon points="504.50,412.80 505.53,414.01 507.12,413.88 506.99,415.47 508.20,416.50 506.99,417.53 507.12,419.12 505.53,418.99 504.50,420.20 503.47,418.99 501.88,419.12 502.01,417.53 500.80,416.50 502.01,415.47 501.88,413.88 503.47,414.01"/>
<polygon points="546.50,393.80 547.53,395.01 549.12,394.88 548.99,396.47 550.20,397.50 548.99,398.53 549.12,400.12 547.53,399.99 546.50,401.20 545.47,399.99 543.88,400.12 544.01,398.53 542.80,397.50 544.01,396.47 543.88,394.88 545.47,395.01"/>
<polygon points="587.50,372.80 588.53,374.01 590.12,373.88 589.99,375.47 591.20,376.50 589.99,377.53 590.12,379.12 588.53,378.99 587.50,380.20 586.47,378.99 584.88,379.12 585.01,377.53 583.80,376.50 585.01,375.47 584.88,373.88 586.47,374.01"/>
<polygon points="628.50,354.80 629.53,356.01 631.12,355.88 630.99,357.47 632.20,358.50 630.99,359.53 631.12,361.12 629.53,360.99 628.50,362.20 627.47,360.99 625.88,361.12 626.01,359.53 624.80,358.50 626.01,357.47 625.88,355.88 627.47,356.01"/>
<polygon points="669.50,331.80 670.53,333.01 672.12,332.88 671.99,334.47 673.20,335.50 671.99,336.53 672.12,338.12 670.53,337.99 669.50,339.20 668.47,337.99 666.88,338.12 667.01,336.53 665.80,335.50 667.01,334.47 666.88,332.88 668.47,333.01"/>
<polygon points="710.50,301.80 711.53,303.01 713.12,302.88 712.99,304.47 714.20,305.50 712.99,306.53 713.12,308.12 711.53,307.99 710.50,309.20 709.47,307.99 707.88,308.12 708.01,306.53 706.80,305.50 708.01,304.47 707.88,302.88 709.47,303.01"/>
<polygon points="752.50,265.80 753.53,267.01 755.12,266.88 754.99,268.47 756.20,269.50 754.99,270.53 755.12,272.12 753.53,271.99 752.50,273.20 751.47,271.99 749.88,272.12 750.01,270.53 748.80,269.50 750.01,268.47 749.88,266.88 751.47,267.01"/>
<polygon points="875.50,204.80 876.53,206.01 878.12,205.88 877.99,207.47 879.20,208.50 877.99,209.53 878.12,211.12 876.53,210.99 875.50,212.20 874.47,210.99 872.88,211.12 873.01,209.53 871.80,208.50 873.01,207.47 872.88,205.88 874.47,206.01"/>
<polygon points="917.50,225.80 918.53,227.01 920.12,226.88 919.99,228.47 921.20,229.50 919.99,230.53 920.12,232.12 918.53,231.99 917.50,233.20 916.47,231.99 914.88,232.12 915.01,230.53 913.80,229.50 915.01,228.47 914.88,226.88 916.47,227.01"/>
<polygon points="958.50,128.80 959.53,130.01 961.12,129.88 960.99,131.47 962.20,132.50 960.99,133.53 961.12,135.12 959.53,134.99 958.50,136.20 957.47,134.99 955.88,135.12 956.01,133.53 954.80,132.50 956.01,131.47 955.88,129.88 957.47,130.01"/>
</g></g>
<g id="s-Niedersachsen">
<g stroke="#00ffff" shape-rendering="crispEdges" fill="none">
<line x1="257.47" y1="539.47" x2="298.47" y2="510.47" stroke-width="0.816"/>
<line x1="298.47" y1="510.47" x2="340.47" y2="501.47" stroke-width="0.978"/>
<line x1="340.47" y1="501.47" x2="381.47" y2="487.47" stroke-width="0.946"/>
<line x1="381.47" y1="487.47" x2="422.47" y2="466.47" stroke-width="0.890"/>
<line x1="422.47" y1="466.47" x2="463.47" y2="441.47" stroke-width="0.854"/>
<line x1="463.47" y1="441.47" x2="504.47" y2="412.47" stroke-width="0.816"/>
<line x1="504.47" y1="412.47" x2="546.47" y2="389.47" stroke-width="0.877"/>
<line x1="546.47" y1="389.47" x2="587.47" y2="370.47" stroke-width="0.907"/>
<line x1="587.47" y1="370.47" x2="628.47" y2="344.47" stroke-width="0.845"/>
<line x1="628.47" y1="344.47" x2="669.47" y2="323.47" stroke-width="0.890"/>
<line x1="669.47" y1="323.47" x2="710.47" y2="289.47" stroke-width="0.770"/>
<line x1="710.47" y1="289.47" x2="752.47" y2="250.47" stroke-width="0.733"/>
<line x1="752.47" y1="250.47" x2="793.47" y2="234.47" stroke-width="0.932"/>
<line x1="793.47" y1="234.47" x2="834.47" y2="234.47" stroke-width="1.000"/>
<line x1="834.47" y1="234.47" x2="875.47" y2="215.47" stroke-width="0.907"/>
<line x1="875.47" y1="215.47" x2="917.47" y2="215.47" stroke-width="1.000"/>
<line x1="917.47" y1="215.47" x2="958.47" y2="119.47" stroke-width="0.920"/>
</g>
<g fill="#00ffff">
<polygon points="257.50,536.80 258.53,538.01 260.12,537.88 259.99,539.47 261.20,540.50 259.99,541.53 260.12,543.12 258.53,542.99 257.50,544.20 256.47,542.99 254.88,543.12 255.01,541.53 253.80,540.50 255.01,539.47 254.88,537.88 256.47,538.01"/>
<polygon points="298.50,507.80 299.53,509.01 301.12,508.88 300.99,510.47 302.20,511.50 300.99,512.53 301.12,514.12 299.53,513.99 298.50,515.20 297.47,513.99 295.88,514.12 296.01,512.53 294.80,511.50 296.01,510.47 295.88,508.88 297.47,509.01"/>
<polygon points="340.50,498.80 341.53,500.01 343.12,499.88 342.99,501.47 344.20,502.50 342.99,503.53 343.12,505.12 341.53,504.99 340.50,506.20 339.47,504.99 337.88,505.12 338.01,503.53 336.80,502.50 338.01,501.47 337.88,499.88 339.47,500.01"/>
<polygon points="381.50,484.80 382.53,486.01 384.12,485.88 383.99,487.47 385.20,488.50 383.99,489.53 384.12,491.12 382.53,490.99 381.50,492.20 380.47,490.99 378.88,491.12 379.01,489.53 377.80,488.50 379.01,487.47 378.88,485.88 380.47,486.01"/>
<polygon points="422.50,463.80 423.53,465.01 425.12,464.88 424.99,466.47 426.20,467.50 424.99,468.53 425.12,470.12 423.53,469.99 422.50,471.20 421.47,469.99 419.88,470.12 420.01,468.53 418.80,467.50 420.01,466.47 419.88,464.88 421.47,465.01"/>
<polygon points="463.50,438.80 464.53,440.01 466.12,439.88 465.99,441.47 467.20,442.50 465.99,443.53 466.12,445.12 464.53,444.99 463.50,446.20 462.47,444.99 460.88,445.12 461.01,443.53 459.80,442.50 461.01,441.47 460.88,439.88 462.47,440.01"/>
<polygon points="504.50,409.80 505.53,411.01 507.12,410.88 506.99,412.47 508.20,413.50 506.99,414.53 507.12,416.12 505.53,415.99 504.50,417.20 503.47,415.99 501.88,416.12 502.01,414.53 500.80,413.50 502.01,412.47 501.88,410.88 503.47,411.01"/>
<polygon points="546.50,386.80 547.53,388.01 549.12,387.88 548.99,389.47 550.20,390.50 548.99,391.53 549.12,393.12 547.53,392.99 546.50,394.20 545.47,392.99 543.88,393.12 544.01,391.53 542.80,390.50 544.01,389.47 543.88,387.88 545.47,388.01"/>
<polygon points="587.50,367.80 588.53,369.01 590.12,368.88 589.99,370.47 591.20,371.50 589.99,372.53 590.12,374.12 588.53,373.99 587.50,375.20 586.47,373.99 584.88,374.12 585.01,372.53 583.80,371.50 585.01,370.47 584.88,368.88 586.47,369.01"/>
<polygon points="628.50,341.80 629.53,343.01 631.12,342.88 630.99,344.47 632.20,345.50 630.99,346.53 631.12,348.12 629.53,347.99 628.50,349.20 627.47,347.99 625.88,348.12 626.01,346.53 624.80,345.50 626.01,344.47 625.88,342.88 627.47,343.01"/>
<polygon points="669.50,320.80 670.53,322.01 672.12,321.88 671.99,323.47 673.20,324.50 671.99,325.53 672.12,327.12 670.53,326.99 669.50,328.20 668.47,326.99 666.88,327.12 667.01,325.53 665.80,324.50 667.01,323.47 666.88,321.88 668.47,322.01"/>
<polygon points="710.50,286.80 711.53,288.01 713.12,287.88 712.99,289.47 714.20,290.50 712.99,291.53 713.12,293.12 711.53,292.99 710.50,294.20 709.47,292.99 707.88,293.12 708.01,291.53 706.80,290.50 708.01,289.47 707.88,287.88 709.47,288.01"/>
<polygon points="752.50,247.80 753.53,249.01 755.12,248.88 754.99,250.47 756.20,251.50 754.99,252.53 755.12,254.12 753.53,253.99 752.50,255.20 751.47,253.99 749.88,254.12 750.01,252.53 748.80,251.50 750.01,250.47 749.88,248.88 751.47,249.01"/>
<polygon points="793.50,231.80 794.53,233.01 796.12,232.88 795.99,234.47 797.20,235.50 795.99,236.53 796.12,238.12 794.53,237.99 793.50,239.20 792.47,237.99 790.88,238.12 791.01,236.53 789.80,235.50 791.01,234.47 790.88,232.88 792.47,233.01"/>
<polygon points="834.50,231.80 835.53,233.01 837.12,232.88 836.99,234.47 838.20,235.50 836.99,236.53 837.12,238.12 835.53,237.99 834.50,239.20 833.47,237.99 831.88,238.12 832.01,236.53 830.80,235.50 832.01,234.47 831.88,232.88 833.47,233.01"/>
<polygon points="875.50,212.80 876.53,214.01 878.12,213.88 877.99,215.47 879.20,216.50 877.99,217.53 878.12,219.12 876.53,218.99 875.50,220.20 874.47,218.99 872.88,219.12 873.01,217.53 871.80,216.50 873.01,215.47 872.88,213.88 874.47,214.01"/>
<polygon points="917.50,212.80 918.53,214.01 920.12,213.88 919.99,215.47 921.20,216.50 919.99,217.53 920.12,219.12 918.53,218.99 917.50,220.20 916.47,218.99 914.88,219.12 915.01,217.53 913.80,216.50 915.01,215.47 914.88,213.88 916.47,214.01"/>
<polygon points="958.50,116.80 959.53,118.01 961.12,117.88 960.99,119.47 962.20,120.50 960.99,121.53 961.12,123.12 959.53,122.99 958.50,124.20 957.47,122.99 955.88,123.12 956.01,121.53 954.80,120.50 956.01,119.47 955.88,117.88 957.47,118.01"/>
</g></g>
<g id="s-Schleswig-Holstein">
<g stroke="#ffa500" shape-rendering="crispEdges" fill="none">
<line x1="257.47" y1="531.47" x2="298.47" y2="499.47" stroke-width="0.788"/>
<line x1="298.47" y1="499.47" x2="340.47" y2="488.47" stroke-width="0.967"/>
<line x1="340.47" y1="488.47" x2="381.47" y2="475.47" stroke-width="0.953"/>
<line x1="381.47" y1="475.47" x2="422.47" y2="457.47" stroke-width="0.916"/>
<line x1="422.47" y1="457.47" x2="463.47" y2="434.47" stroke-width="0.872"/>
<line x1="463.47" y1="434.47" x2="504.47" y2="408.47" stroke-width="0.845"/>
<line x1="504.47" y1="408.47" x2="546.47" y2="389.47" stroke-width="0.911"/>
<line x1="546.47" y1="389.47" x2="587.47" y2="370.47" stroke-width="0.907"/>
<line x1="587.47" y1="370.47" x2="628.47" y2="350.47" stroke-width="0.899"/>
<line x1="628.47" y1="350.47" x2="669.47" y2="326.47" stroke-width="0.863"/>
<line x1="669.47" y1="326.47" x2="710.47" y2="294.47" stroke-width="0.788"/>
<line x1="710.47" y1="294.47" x2="752.47" y2="259.47" stroke-width="0.768"/>
<line x1="752.47" y1="259.47" x2="793.47" y2="228.47" stroke-width="0.798"/>
<line x1="793.47" y1="228.47" x2="834.47" y2="222.47" stroke-width="0.989"/>
<line x1="834.47" y1="222.47" x2="875.47" y2="190.47" stroke-width="0.788"/>
<line x1="875.47" y1="190.47" x2="917.47" y2="190.47" stroke-width="1.000"/>
<line x1="917.47" y1="190.47" x2="958.47" y2="90.47" stroke-width="0.925"/>
</g>
<g fill="#ffa500">
<polygon points="257.50,528.80 258.53,530.01 260.12,529.88 259.99,531.47 261.20,532.50 259.99,533.53 260.12,535.12 258.53,534.99 257.50,536.20 256.47,534.99 254.88,535.12 255.01,533.53 253.80,532.50 255.01,531.47 254.88,529.88 256.47,530.01"/>
<polygon points="298.50,496.80 299.53,498.01 301.12,497.88 300.99,499.47 302.20,500.50 300.99,501.53 301.12,503.12 299.53,502.99 298.50,504.20 297.47,502.99 295.88,503.12 296.01,501.53 294.80,500.50 296.01,499.47 295.88,497.88 297.47,498.01"/>
<polygon points="340.50,485.80 341.53,487.01 343.12,486.88 342.99,488.47 344.20,489.50 342.99,490.53 343.12,492.12 341.53,491.99 340.50,493.20 339.47,491.99 337.88,492.12 338.01,490.53 336.80,489.50 338.01,488.47 337.88,486.88 339.47,487.01"/>
<polygon points="381.50,472.80 382.53,474.01 384.12,473.88 383.99,475.47 385.20,476.50 383.99,477.53 384.12,479.12 382.53,478.99 381.50,480.20 380.47,478.99 378.88,479.12 379.01,477.53 377.80,476.50 379.01,475.47 378.88,473.88 380.47,474.01"/>
<polygon points="422.50,454.80 423.53,456.01 425.12,455.88 424.99,457.47 426.20,458.50 424.99,459.53 425.12,461.12 423.53,460.99 422.50,462.20 421.47,460.99 419.88,461.12 420.01,459.53 418.80,458.50 420.01,457.47 419.88,455.88 421.47,456.01"/>
<polygon points="463.50,431.80 464.53,433.01 466.12,432.88 465.99,434.47 467.20,435.50 465.99,436.53 466.12,438.12 464.53,437.99 463.50,439.20 462.47,437.99 460.88,438.12 461.01,436.53 459.80,435.50 461.01,434.47 460.88,432.88 462.47,433.01"/>
<polygon points="504.50,405.80 505.53,407.01 507.12,406.88 506.99,408.47 508.20,409.50 506.99,410.53 507.12,412.12 505.53,411.99 504.50,413.20 503.47,411.99 501.88,412.12 502.01,410.53 500.80,409.50 502.01,408.47 501.88,406.88 503.47,407.01"/>
<polygon points="546.50,386.80 547.53,388.01 549.12,387.88 548.99,389.47 550.20,390.50 548.99,391.53 549.12,393.12 547.53,392.99 546.50,394.20 545.47,392.99 543.88,393.12 544.01,391.53 542.80,390.50 544.01,389.47 543.88,387.88 545.47,388.01"/>
<polygon points="587.50,367.80 588.53,369.01 590.12,368.88 589.99,370.47 591.20,371.50 589.99,372.53 590.12,374.12 588.53,373.99 587.50,375.20 586.47,373.99 584.88,374.12 585.01,372.53 583.80,371.50 585.01,370.47 584.88,368.88 586.47,369.01"/>
<polygon points="628.50,347.80 629.53,349.01 631.12,348.88 630.99,350.47 632.20,351.50 630.99,352.53 631.12,354.12 629.53,353.99 628.50,355.20 627.47,353.99 625.88,354.12 626.01,352.53 624.80,351.50 626.01,350.47 625.88,348.88 627.47,349.01"/>
<polygon points="669.50,323.80 670.53,325.01 672.12,324.88 671.99,326.47 673.20,327.50 671.99,328.53 672.12,330.12 670.53,329.99 669.50,331.20 668.47,329.99 666.88,330.12 667.01,328.53 665.80,327.50 667.01,326.47 666.88,324.88 668.47,325.01"/>
<polygon points="710.50,291.80 711.53,293.01 713.12,292.88 712.99,294.47 714.20,295.50 712.99,296.53 713.12,298.12 711.53,297.99 710.50,299.20 709.47,297.99 707.88,298.12 708.01,296.53 706.80,295.50 708.01,294.47 707.88,292.88 709.47,293.01"/>
<polygon points="752.50,256.80 753.53,258.01 755.12,257.88 754.99,259.47 756.20,260.50 754.99,261.53 755.12,263.12 753.53,262.99 752.50,264.20 751.47,262.99 749.88,263.12 750.01,261.53 748.80,260.50 750.01,259.47 749.88,257.88 751.47,258.01"/>
<polygon points="793.50,225.80 794.53,227.01 796.12,226.88 795.99,228.47 797.20,229.50 795.99,230.53 796.12,232.12 794.53,231.99 793.50,233.20 792.47,231.99 790.88,232.12 791.01,230.53 789.80,229.50 791.01,228.47 790.88,226.88 792.47,227.01"/>
<polygon points="834.50,219.80 835.53,221.01 837.12,220.88 836.99,222.47 838.20,223.50 836.99,224.53 837.12,226.12 835.53,225.99 834.50,227.20 833.47,225.99 831.88,226.12 832.01,224.53 830.80,223.50 832.01,222.47 831.88,220.88 833.47,221.01"/>
<polygon points="875.50,187.80 876.53,189.01 878.12,188.88 877.99,190.47 879.20,191.50 877.99,192.53 878.12,194.12 876.53,193.99 875.50,195.20 874.47,193.99 872.88,194.12 873.01,192.53 871.80,191.50 873.01,190.47 872.88,188.88 874.47,189.01"/>
<polygon points="917.50,187.80 918.53,189.01 920.12,188.88 919.99,190.47 921.20,191.50 919.99,192.53 920.12,194.12 918.53,193.99 917.50,195.20 916.47,193.99 914.88,194.12 915.01,192.53 913.80,191.50 915.01,190.47 914.88,188.88 916.47,189.01"/>
<polygon points="958.50,87.80 959.53,89.01 961.12,88.88 960.99,90.47 962.20,91.50 960.99,92.53 961.12,94.12 959.53,93.99 958.50,95.20 957.47,93.99 955.88,94.12 956.01,92.53 954.80,91.50 956.01,90.47 955.88,88.88 957.47,89.01"/>
</g></g>
<g stroke="#000080" stroke-width="1" fill="none" shape-rendering="crispEdges">
<rect x="51.5" y="20.5" width="948.0" height="551.0"/>
<line x1="51.5" y1="571.5" x2="55.5" y2="571.5"/>
<line x1="51.5" y1="559.5" x2="55.5" y2="559.5"/>
<line x1="51.5" y1="547.5" x2="55.5" y2="547.5"/>
<line x1="51.5" y1="535.5" x2="55.5" y2="535.5"/>
<line x1="51.5" y1="523.5" x2="55.5" y2="523.5"/>
<line x1="51.5" y1="511.5" x2="55.5" y2="511.5"/>
<line x1="51.5" y1="499.5" x2="55.5" y2="499.5"/>
<line x1="51.5" y1="487.5" x2="55.5" y2="487.5"/>
<line x1="51.5" y1="475.5" x2="55.5" y2="475.5"/>
<line x1="51.5" y1="463.5" x2="55.5" y2="463.5"/>
<line x1="51.5" y1="451.5" x2="55.5" y2="451.5"/>
<line x1="51.5" y1="439.5" x2="55.5" y2="439.5"/>
<line x1="51.5" y1="427.5" x2="55.5" y2="427.5"/>
<line x1="51.5" y1="415.5" x2="55.5" y2="415.5"/>
<line x1="51.5" y1="403.5" x2="55.5" y2="403.5"/>
<line x1="51.5" y1="391.5" x2="55.5" y2="391.5"/>
<line x1="51.5" y1="379.5" x2="55.5" y2="379.5"/>
<line x1="51.5" y1="367.5" x2="55.5" y2="367.5"/>
<line x1="51.5" y1="355.5" x2="55.5" y2="355.5"/>
<line x1="51.5" y1="343.5" x2="55.5" y2="343.5"/>
<line x1="51.5" y1="331.5" x2="55.5" y2="331.5"/>
<line x1="51.5" y1="319.5" x2="55.5" y2="319.5"/>
<line x1="51.5" y1="307.5" x2="55.5" y2="307.5"/>
<line x1="51.5" y1="296.5" x2="55.5" y2="296.5"/>
<line x1="51.5" y1="284.5" x2="55.5" y2="284.5"/>
<line x1="51.5" y1="272.5" x2="55.5" y2="272.5"/>
<line x1="51.5" y1="260.5" x2="55.5" y2="260.5"/>
<line x1="51.5" y1="248.5" x2="55.5" y2="248.5"/>
<line x1="51.5" y1="236.5" x2="55.5" y2="236.5"/>
<line x1="51.5" y1="224.5" x2="55.5" y2="224.5"/>
<line x1="51.5" y1="212.5" x2="55.5" y2="212.5"/>
<line x1="51.5" y1="200.5" x2="55.5" y2="200.5"/>
<line x1="51.5" y1="188.5" x2="55.5" y2="188.5"/>
<line x1="51.5" y1="176.5" x2="55.5" y2="176.5"/>
<line x1="51.5" y1="164.5" x2="55.5" y2="164.5"/>
<line x1="51.5" y1="152.5" x2="55.5" y2="152.5"/>
<line x1="51.5" y1="140.5" x2="55.5" y2="140.5"/>
<line x1="51.5" y1="128.5" x2="55.5" y2="128.5"/>
<line x1="51.5" y1="116.5" x2="55.5" y2="116.5"/>
<line x1="51.5" y1="104.5" x2="55.5" y2="104.5"/>
<line x1="51.5" y1="92.5" x2="55.5" y2="92.5"/>
<line x1="51.5" y1="80.5" x2="55.5" y2="80.5"/>
<line x1="51.5" y1="68.5" x2="55.5" y2="68.5"/>
<line x1="51.5" y1="56.5" x2="55.5" y2="56.5"/>
<line x1="51.5" y1="44.5" x2="55.5" y2="44.5"/>
<line x1="51.5" y1="32.5" x2="55.5" y2="32.5"/>
<line x1="51.5" y1="20.5" x2="55.5" y2="20.5"/>
<line x1="92.5" y1="571.5" x2="92.5" y2="566.5"/>
<line x1="133.5" y1="571.5" x2="133.5" y2="566.5"/>
<line x1="175.5" y1="571.5" x2="175.5" y2="566.5"/>
<line x1="216.5" y1="571.5" x2="216.5" y2="566.5"/>
<line x1="257.5" y1="571.5" x2="257.5" y2="566.5"/>
<line x1="298.5" y1="571.5" x2="298.5" y2="566.5"/>
<line x1="340.5" y1="571.5" x2="340.5" y2="566.5"/>
<line x1="381.5" y1="571.5" x2="381.5" y2="566.5"/>
<line x1="422.5" y1="571.5" x2="422.5" y2="566.5"/>
<line x1="463.5" y1="571.5" x2="463.5" y2="566.5"/>
<line x1="504.5" y1="571.5" x2="504.5" y2="566.5"/>
<line x1="546.5" y1="571.5" x2="546.5" y2="566.5"/>
<line x1="587.5" y1="571.5" x2="587.5" y2="566.5"/>
<line x1="628.5" y1="571.5" x2="628.5" y2="566.5"/>
<line x1="669.5" y1="571.5" x2="669.5" y2="566.5"/>
<line x1="710.5" y1="571.5" x2="710.5" y2="566.5"/>
<line x1="752.5" y1="571.5" x2="752.5" y2="566.5"/>
<line x1="793.5" y1="571.5" x2="793.5" y2="566.5"/>
<line x1="834.5" y1="571.5" x2="834.5" y2="566.5"/>
<line x1="875.5" y1="571.5" x2="875.5" y2="566.5"/>
<line x1="917.5" y1="571.5" x2="917.5" y2="566.5"/>
<line x1="958.5" y1="571.5" x2="958.5" y2="566.5"/>
</g>
<g class="d" id="values">
<text transform="translate(79.8,519.0) scale(0.88,1)" text-anchor="start">72944</text>
<text transform="translate(120.8,519.0) scale(0.88,1)" text-anchor="start">72944</text>
<text transform="translate(161.8,540.0) scale(0.88,1)" text-anchor="start">71207</text>
<text transform="translate(202.8,540.0) scale(0.88,1)" text-anchor="start">71207</text>
<text transform="translate(244.8,506.0) scale(0.88,1)" text-anchor="start">74048</text>
<text transform="translate(285.8,481.0) scale(0.88,1)" text-anchor="start">76116</text>
<text transform="translate(326.8,470.0) scale(0.88,1)" text-anchor="start">77029</text>
<text transform="translate(367.8,462.0) scale(0.88,1)" text-anchor="start">77724</text>
<text transform="translate(408.8,407.0) scale(0.88,1)" text-anchor="start">82249</text>
<text transform="translate(450.8,384.0) scale(0.88,1)" text-anchor="start">84234</text>
<text transform="translate(491.8,355.0) scale(0.88,1)" text-anchor="start">86596</text>
<text transform="translate(532.8,332.0) scale(0.88,1)" text-anchor="start">88495</text>
<text transform="translate(573.8,309.0) scale(0.88,1)" text-anchor="start">90445</text>
<text transform="translate(615.8,284.0) scale(0.88,1)" text-anchor="start">92531</text>
<text transform="translate(656.8,251.0) scale(0.88,1)" text-anchor="start">95339</text>
<text transform="translate(697.8,215.0) scale(0.88,1)" text-anchor="start">98285</text>
<text transform="translate(738.8,203.0) scale(0.88,1)" text-anchor="start">99327</text>
<text transform="translate(777.8,188.0) scale(0.88,1)" text-anchor="start">100519</text>
<text transform="translate(818.8,167.0) scale(0.88,1)" text-anchor="start">102328</text>
<text transform="translate(859.8,167.0) scale(0.88,1)" text-anchor="start">102328</text>
<text transform="translate(901.8,68.0) scale(0.88,1)" text-anchor="start">110579</text>
<text transform="translate(942.8,28.0) scale(0.88,1)" text-anchor="start">113897</text>
<text transform="translate(79.8,515.0) scale(0.88,1)" text-anchor="start">73288</text>
<text transform="translate(120.8,515.0) scale(0.88,1)" text-anchor="start">73288</text>
<text transform="translate(161.8,515.0) scale(0.88,1)" text-anchor="start">73288</text>
<text transform="translate(202.8,488.0) scale(0.88,1)" text-anchor="start">75487</text>
<text transform="translate(244.8,488.0) scale(0.88,1)" text-anchor="start">75487</text>
<text transform="translate(285.8,455.0) scale(0.88,1)" text-anchor="start">78272</text>
<text transform="translate(326.8,444.0) scale(0.88,1)" text-anchor="start">79212</text>
<text transform="translate(367.8,443.0) scale(0.88,1)" text-anchor="start">79263</text>
<text transform="translate(408.8,422.0) scale(0.88,1)" text-anchor="start">80983</text>
<text transform="translate(450.8,382.0) scale(0.88,1)" text-anchor="start">84374</text>
<text transform="translate(491.8,352.0) scale(0.88,1)" text-anchor="start">86862</text>
<text transform="translate(532.8,330.0) scale(0.88,1)" text-anchor="start">88685</text>
<text transform="translate(573.8,306.0) scale(0.88,1)" text-anchor="start">90728</text>
<text transform="translate(615.8,284.0) scale(0.88,1)" text-anchor="start">92537</text>
<text transform="translate(656.8,258.0) scale(0.88,1)" text-anchor="start">94711</text>
<text transform="translate(697.8,222.0) scale(0.88,1)" text-anchor="start">97710</text>
<text transform="translate(736.8,184.0) scale(0.88,1)" text-anchor="start">100866</text>
<text transform="translate(777.8,167.0) scale(0.88,1)" text-anchor="start">102278</text>
<text transform="translate(818.8,167.0) scale(0.88,1)" text-anchor="start">102278</text>
<text transform="translate(859.8,122.0) scale(0.88,1)" text-anchor="start">106038</text>
<text transform="translate(901.8,122.0) scale(0.88,1)" text-anchor="start">106038</text>
<text transform="translate(942.8,17.0) scale(0.88,1)" text-anchor="start">114843</text>
<text transform="translate(79.8,553.0) scale(0.88,1)" text-anchor="start">70110</text>
<text transform="translate(120.8,553.0) scale(0.88,1)" text-anchor="start">70110</text>
<text transform="translate(161.8,553.0) scale(0.88,1)" text-anchor="start">70110</text>
<text transform="translate(202.8,553.0) scale(0.88,1)" text-anchor="start">70110</text>
<text transform="translate(244.8,549.0) scale(0.88,1)" text-anchor="start">70410</text>
<text transform="translate(285.8,549.0) scale(0.88,1)" text-anchor="start">70410</text>
<text transform="translate(326.8,540.0) scale(0.88,1)" text-anchor="start">71152</text>
<text transform="translate(367.8,521.0) scale(0.88,1)" text-anchor="start">72765</text>
<text transform="translate(408.8,504.0) scale(0.88,1)" text-anchor="start">74207</text>
<text transform="translate(450.8,486.0) scale(0.88,1)" text-anchor="start">75679</text>
<text transform="translate(491.8,459.0) scale(0.88,1)" text-anchor="start">77930</text>
<text transform="translate(532.8,431.0) scale(0.88,1)" text-anchor="start">80249</text>
<text transform="translate(573.8,405.0) scale(0.88,1)" text-anchor="start">82407</text>
<text transform="translate(615.8,377.0) scale(0.88,1)" text-anchor="start">84766</text>
<text transform="translate(656.8,344.0) scale(0.88,1)" text-anchor="start">87552</text>
<text transform="translate(697.8,298.0) scale(0.88,1)" text-anchor="start">91378</text>
<text transform="translate(738.8,253.0) scale(0.88,1)" text-anchor="start">95165</text>
<text transform="translate(779.8,224.0) scale(0.88,1)" text-anchor="start">97521</text>
<text transform="translate(821.8,224.0) scale(0.88,1)" text-anchor="start">97521</text>
<text transform="translate(862.8,214.0) scale(0.88,1)" text-anchor="start">98426</text>
<text transform="translate(903.8,214.0) scale(0.88,1)" text-anchor="start">98426</text>
<text transform="translate(942.8,101.0) scale(0.88,1)" text-anchor="start">107830</text>
<text transform="translate(79.8,529.0) scale(0.88,1)" text-anchor="start">72075</text>
<text transform="translate(120.8,529.0) scale(0.88,1)" text-anchor="start">72075</text>
<text transform="translate(161.8,560.0) scale(0.88,1)" text-anchor="start">69470</text>
<text transform="translate(202.8,560.0) scale(0.88,1)" text-anchor="start">69470</text>
<text transform="translate(244.8,535.0) scale(0.88,1)" text-anchor="start">71551</text>
<text transform="translate(285.8,507.0) scale(0.88,1)" text-anchor="start">73897</text>
<text transform="translate(326.8,497.0) scale(0.88,1)" text-anchor="start">74765</text>
<text transform="translate(367.8,484.0) scale(0.88,1)" text-anchor="start">75886</text>
<text transform="translate(408.8,463.0) scale(0.88,1)" text-anchor="start">77595</text>
<text transform="translate(450.8,445.0) scale(0.88,1)" text-anchor="start">79097</text>
<text transform="translate(491.8,424.0) scale(0.88,1)" text-anchor="start">80820</text>
<text transform="translate(532.8,404.0) scale(0.88,1)" text-anchor="start">82518</text>
<text transform="translate(573.8,381.0) scale(0.88,1)" text-anchor="start">84416</text>
<text transform="translate(615.8,361.0) scale(0.88,1)" text-anchor="start">86104</text>
<text transform="translate(656.8,337.0) scale(0.88,1)" text-anchor="start">88128</text>
<text transform="translate(697.8,303.0) scale(0.88,1)" text-anchor="start">90948</text>
<text transform="translate(738.8,268.0) scale(0.88,1)" text-anchor="start">93858</text>
<text transform="translate(779.8,253.0) scale(0.88,1)" text-anchor="start">95172</text>
<text transform="translate(821.8,253.0) scale(0.88,1)" text-anchor="start">95172</text>
<text transform="translate(859.8,192.0) scale(0.88,1)" text-anchor="start">100264</text>
<text transform="translate(901.8,192.0) scale(0.88,1)" text-anchor="start">100264</text>
<text transform="translate(942.8,115.0) scale(0.88,1)" text-anchor="start">106640</text>
<text transform="translate(244.8,502.0) scale(0.88,1)" text-anchor="start">74329</text>
<text transform="translate(285.8,469.0) scale(0.88,1)" text-anchor="start">77078</text>
<text transform="translate(326.8,458.0) scale(0.88,1)" text-anchor="start">78003</text>
<text transform="translate(367.8,477.0) scale(0.88,1)" text-anchor="start">76403</text>
<text transform="translate(408.8,460.0) scale(0.88,1)" text-anchor="start">77855</text>
<text transform="translate(450.8,437.0) scale(0.88,1)" text-anchor="start">79762</text>
<text transform="translate(491.8,411.0) scale(0.88,1)" text-anchor="start">81930</text>
<text transform="translate(532.8,392.0) scale(0.88,1)" text-anchor="start">83513</text>
<text transform="translate(573.8,371.0) scale(0.88,1)" text-anchor="start">85266</text>
<text transform="translate(615.8,353.0) scale(0.88,1)" text-anchor="start">86801</text>
<text transform="translate(656.8,330.0) scale(0.88,1)" text-anchor="start">88668</text>
<text transform="translate(697.8,300.0) scale(0.88,1)" text-anchor="start">91225</text>
<text transform="translate(738.8,264.0) scale(0.88,1)" text-anchor="start">94250</text>
<text transform="translate(862.8,203.0) scale(0.88,1)" text-anchor="start">99330</text>
<text transform="translate(903.8,224.0) scale(0.88,1)" text-anchor="start">97578</text>
<text transform="translate(942.8,127.0) scale(0.88,1)" text-anchor="start">105682</text>
<text transform="translate(244.8,535.0) scale(0.88,1)" text-anchor="start">71585</text>
<text transform="translate(285.8,506.0) scale(0.88,1)" text-anchor="start">73970</text>
<text transform="translate(326.8,497.0) scale(0.88,1)" text-anchor="start">74785</text>
<text transform="translate(367.8,483.0) scale(0.88,1)" text-anchor="start">75956</text>
<text transform="translate(408.8,462.0) scale(0.88,1)" text-anchor="start">77651</text>
<text transform="translate(450.8,437.0) scale(0.88,1)" text-anchor="start">79802</text>
<text transform="translate(491.8,408.0) scale(0.88,1)" text-anchor="start">82156</text>
<text transform="translate(532.8,385.0) scale(0.88,1)" text-anchor="start">84072</text>
<text transform="translate(573.8,366.0) scale(0.88,1)" text-anchor="start">85730</text>
<text transform="translate(615.8,340.0) scale(0.88,1)" text-anchor="start">87887</text>
<text transform="translate(656.8,319.0) scale(0.88,1)" text-anchor="start">89645</text>
<text transform="translate(697.8,285.0) scale(0.88,1)" text-anchor="start">92478</text>
<text transform="translate(738.8,246.0) scale(0.88,1)" text-anchor="start">95737</text>
<text transform="translate(779.8,230.0) scale(0.88,1)" text-anchor="start">97073</text>
<text transform="translate(821.8,230.0) scale(0.88,1)" text-anchor="start">97073</text>
<text transform="translate(862.8,211.0) scale(0.88,1)" text-anchor="start">98664</text>
<text transform="translate(903.8,211.0) scale(0.88,1)" text-anchor="start">98664</text>
<text transform="translate(942.8,115.0) scale(0.88,1)" text-anchor="start">106646</text>
<text transform="translate(244.8,527.0) scale(0.88,1)" text-anchor="start">72285</text>
<text transform="translate(285.8,495.0) scale(0.88,1)" text-anchor="start">74924</text>
<text transform="translate(326.8,484.0) scale(0.88,1)" text-anchor="start">75813</text>
<text transform="translate(367.8,471.0) scale(0.88,1)" text-anchor="start">76968</text>
<text transform="translate(408.8,453.0) scale(0.88,1)" text-anchor="start">78437</text>
<text transform="translate(450.8,430.0) scale(0.88,1)" text-anchor="start">80339</text>
<text transform="translate(491.8,404.0) scale(0.88,1)" text-anchor="start">82526</text>
<text transform="translate(532.8,385.0) scale(0.88,1)" text-anchor="start">84079</text>
<text transform="translate(573.8,366.0) scale(0.88,1)" text-anchor="start">85689</text>
<text transform="translate(615.8,346.0) scale(0.88,1)" text-anchor="start">87359</text>
<text transform="translate(656.8,322.0) scale(0.88,1)" text-anchor="start">89393</text>
<text transform="translate(697.8,290.0) scale(0.88,1)" text-anchor="start">92059</text>
<text transform="translate(738.8,255.0) scale(0.88,1)" text-anchor="start">94980</text>
<text transform="translate(779.8,224.0) scale(0.88,1)" text-anchor="start">97564</text>
<text transform="translate(821.8,218.0) scale(0.88,1)" text-anchor="start">98042</text>
<text transform="translate(859.8,186.0) scale(0.88,1)" text-anchor="start">100764</text>
<text transform="translate(901.8,186.0) scale(0.88,1)" text-anchor="start">100764</text>
<text transform="translate(942.8,86.0) scale(0.88,1)" text-anchor="start">109087</text>
</g>
<g id="legend">
<rect x="105" y="594" width="13" height="2" fill="#ff0000" shape-rendering="crispEdges"/>
<polygon fill="#ff0000" points="111.50,591.80 112.53,593.01 114.12,592.88 113.99,594.47 115.20,595.50 113.99,596.53 114.12,598.12 112.53,597.99 111.50,599.20 110.47,597.99 108.88,598.12 109.01,596.53 107.80,595.50 109.01,594.47 108.88,592.88 110.47,593.01"/>
<text class="t" x="121.0" y="597.9" textLength="19" lengthAdjust="spacingAndGlyphs">Bund</text>
<rect x="219" y="594" width="13" height="2" fill="#00ff00" shape-rendering="crispEdges"/>
<polygon fill="#00ff00" points="225.50,591.80 226.53,593.01 228.12,592.88 227.99,594.47 229.20,595.50 227.99,596.53 228.12,598.12 226.53,597.99 225.50,599.20 224.47,597.99 222.88,598.12 223.01,596.53 221.80,595.50 223.01,594.47 222.88,592.88 224.47,593.01"/>
<text class="t" x="235.0" y="597.9" textLength="29" lengthAdjust="spacingAndGlyphs">Bayern</text>
<rect x="333" y="594" width="13" height="2" fill="#0000ff" shape-rendering="crispEdges"/>
<polygon fill="#0000ff" points="339.50,591.80 340.53,593.01 342.12,592.88 341.99,594.47 343.20,595.50 341.99,596.53 342.12,598.12 340.53,597.99 339.50,599.20 338.47,597.99 336.88,598.12 337.01,596.53 335.80,595.50 337.01,594.47 336.88,592.88 338.47,593.01"/>
<text class="t" x="349.0" y="597.9" textLength="29" lengthAdjust="spacingAndGlyphs">Berlin</text>
<rect x="447" y="594" width="13" height="2" fill="#808000" shape-rendering="crispEdges"/>
<polygon fill="#808000" points="453.50,591.80 454.53,593.01 456.12,592.88 455.99,594.47 457.20,595.50 455.99,596.53 456.12,598.12 454.53,597.99 453.50,599.20 452.47,597.99 450.88,598.12 451.01,596.53 449.80,595.50 451.01,594.47 450.88,592.88 452.47,593.01"/>
<text class="t" x="463.0" y="597.9" textLength="29" lengthAdjust="spacingAndGlyphs">Bremen</text>
<rect x="561" y="594" width="13" height="2" fill="#ff00ff" shape-rendering="crispEdges"/>
<polygon fill="#ff00ff" points="567.50,591.80 568.53,593.01 570.12,592.88 569.99,594.47 571.20,595.50 569.99,596.53 570.12,598.12 568.53,597.99 567.50,599.20 566.47,597.99 564.88,598.12 565.01,596.53 563.80,595.50 565.01,594.47 564.88,592.88 566.47,593.01"/>
<text class="t" x="577.0" y="597.9" textLength="34" lengthAdjust="spacingAndGlyphs">Hamburg</text>
<rect x="675" y="594" width="13" height="2" fill="#00ffff" shape-rendering="crispEdges"/>
<polygon fill="#00ffff" points="681.50,591.80 682.53,593.01 684.12,592.88 683.99,594.47 685.20,595.50 683.99,596.53 684.12,598.12 682.53,597.99 681.50,599.20 680.47,597.99 678.88,598.12 679.01,596.53 677.80,595.50 679.01,594.47 678.88,592.88 680.47,593.01"/>
<text class="t" x="691.0" y="597.9" textLength="64" lengthAdjust="spacingAndGlyphs">Niedersachsen</text>
<rect x="789" y="594" width="13" height="2" fill="#ffa500" shape-rendering="crispEdges"/>
<polygon fill="#ffa500" points="795.50,591.80 796.53,593.01 798.12,592.88 797.99,594.47 799.20,595.50 797.99,596.53 798.12,598.12 796.53,597.99 795.50,599.20 794.47,597.99 792.88,598.12 793.01,596.53 791.80,595.50 793.01,594.47 792.88,592.88 794.47,593.01"/>
<text class="t" x="805.0" y="597.9" textLength="89" lengthAdjust="spacingAndGlyphs">Schleswig-Holstein</text>
</g>
</svg></body></html>
